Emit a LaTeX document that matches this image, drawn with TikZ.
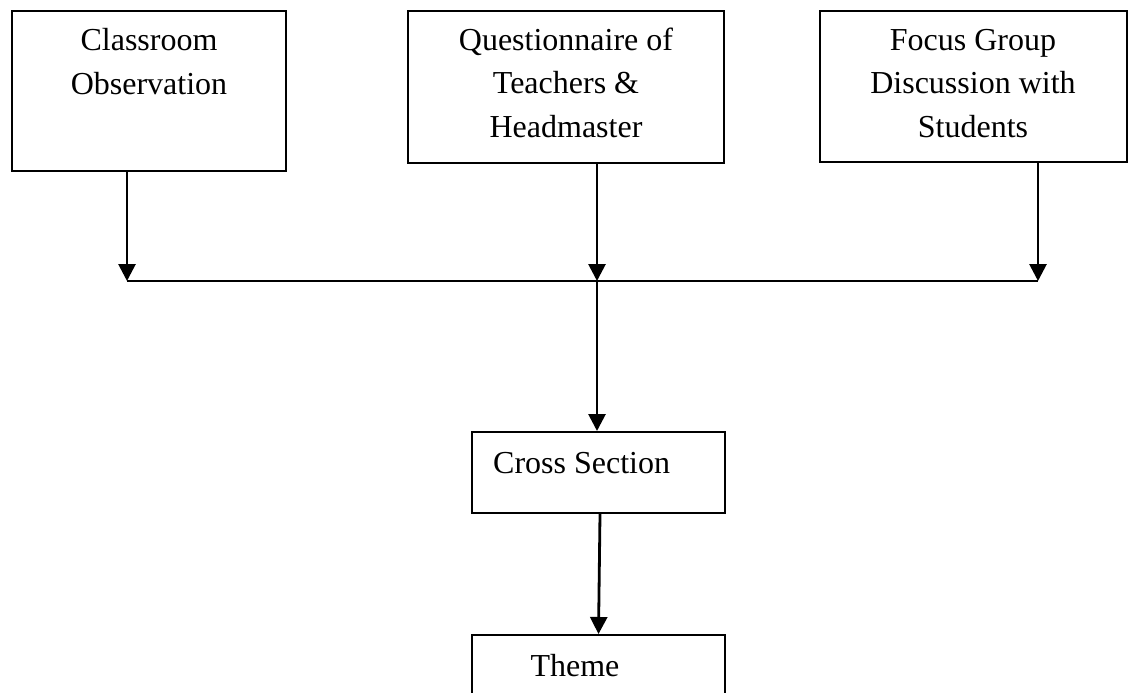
\documentclass[tikz,border=0pt]{standalone}
\usepackage{fontspec}
\setmainfont{Liberation Serif}
\usetikzlibrary{arrows.meta}
\begin{document}
\begin{tikzpicture}[x=1pt,y=-1pt,
  box/.style={draw, line width=2pt, rectangle, inner sep=0pt},
  lbl/.style={font=\fontsize{32}{43.5}\selectfont, align=center, inner sep=0pt, anchor=base},
  arr/.style={line width=2.8pt, -{Triangle[width=17pt,length=17pt]}},
  hline/.style={line width=1.6pt}]
\clip (0,0) rectangle (1130,693);
\fill[white] (0,0) rectangle (1130,693);
% boxes
\node[box, minimum width=274pt, minimum height=160pt] (b1) at (149,91) {};
\node[box, minimum width=316pt, minimum height=152pt] (b2) at (566,87) {};
\node[box, minimum width=307pt, minimum height=151pt] (b3) at (973.5,86.5) {};
\node[box, minimum width=253pt, minimum height=81pt] (cs) at (598.5,472.5) {};
\node[box, minimum width=253pt, minimum height=85pt] (th) at (598.5,677.5) {};
% texts (anchor base = baseline of last line)
\node[lbl] (t1) at (149,94) {Classroom\\Observation};
\node[lbl] (t2) at (566,137) {Questionnaire of\\Teachers \&\\Headmaster};
\node[lbl] (t3) at (973,137) {Focus Group\\Discussion with\\Students};
\node[lbl, anchor=base west] (tcs) at (493,473) {Cross Section};
\node[lbl] (tth) at (575,676) {Theme};
% junctions
\coordinate (j1) at (127,281);
\coordinate (j2) at (597,281);
\coordinate (j3) at (1038,281);
\draw[arr] (b1.south -| j1) -- (j1);
\draw[arr] (b2.south -| j2) -- (j2);
\draw[arr] (b3.south -| j3) -- (j3);
\draw[hline] (j1) -- (j3);
\draw[arr] (j2) -- (j2 |- cs.north);
\draw[arr] ([xshift=1.5pt]cs.south) -- (th.north);
\end{tikzpicture}
\end{document}
